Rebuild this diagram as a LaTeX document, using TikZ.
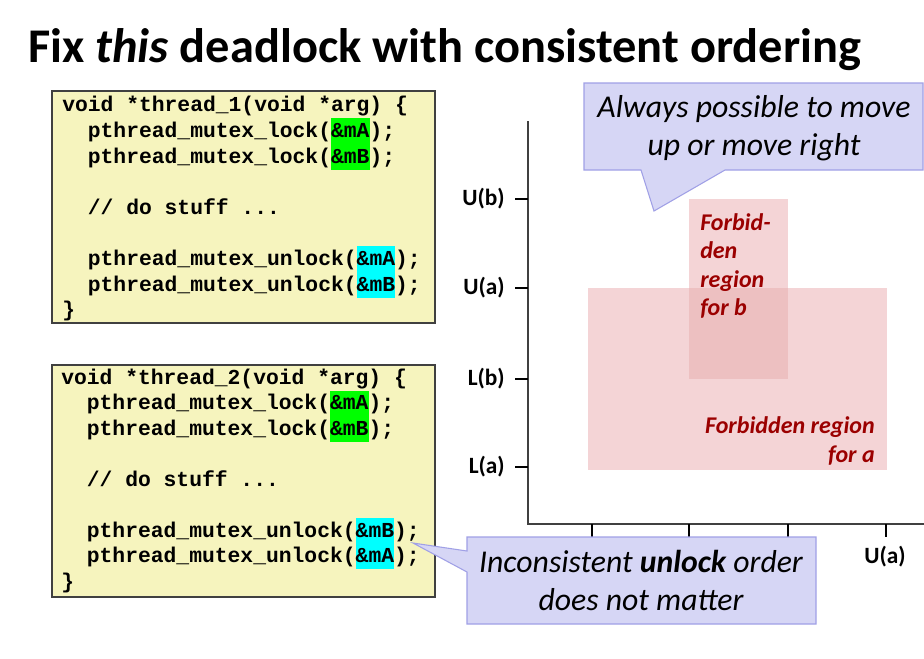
\documentclass[tikz,border=0pt]{standalone}
\usepackage{fontspec}
\setmainfont{Carlito}
\newfontfamily\codefont{Liberation Mono}
\usetikzlibrary{positioning}
\definecolor{codefill}{RGB}{246,244,190}
\definecolor{codedraw}{RGB}{64,64,64}
\definecolor{hlgreen}{RGB}{0,255,0}
\definecolor{hlcyan}{RGB}{0,255,255}
\definecolor{calfill}{RGB}{214,214,245}
\definecolor{caldraw}{RGB}{160,160,230}
\definecolor{forbfill}{RGB}{244,212,214}
\definecolor{forbover}{RGB}{237,192,193}
\definecolor{forbtext}{RGB}{155,0,0}
\definecolor{axiscol}{RGB}{64,64,64}
\newcommand\hlg[1]{{\setlength{\fboxsep}{0pt}\colorbox{hlgreen}{\rule[-5.2pt]{0pt}{19.4pt}#1}}}
\newcommand\hlc[1]{{\setlength{\fboxsep}{0pt}\colorbox{hlcyan}{\rule[-5.2pt]{0pt}{19.4pt}#1}}}
\tikzset{
  codebox/.style={draw=codedraw, fill=codefill, line width=1.2pt, minimum width=287.25pt, minimum height=174pt, inner sep=0pt},
  codeline/.style={anchor=base west, inner sep=0pt, font=\codefont\bfseries\fontsize{16pt}{19pt}\selectfont},
  calloutshape/.style={draw=caldraw, fill=calfill, line width=0.8pt, line join=miter},
  calltext/.style={anchor=base, inner sep=0pt, font=\itshape\fontsize{23.8pt}{28pt}\selectfont},
  forbtextstyle/.style={inner sep=0pt, text=forbtext, font=\bfseries\itshape\fontsize{18pt}{21pt}\selectfont},
  axisline/.style={draw=axiscol, line width=1.6pt},
  tickline/.style={draw=black, line width=2pt},
  axislabel/.style={inner sep=0pt, font=\bfseries\fontsize{17.5pt}{20pt}\selectfont}
}
\begin{document}
\begin{tikzpicture}[x=0.75pt,y=-0.75pt]
\useasboundingbox (0,0) rectangle (924,658);
\fill[white] (0,0) rectangle (924,658);
% title
\node[anchor=base west, inner sep=0pt, font=\bfseries\fontsize{36.3pt}{42pt}\selectfont] (title) at (28,62) {Fix \textit{this} deadlock with consistent ordering};
% code boxes
\node[codebox] (box1) at (243.5,207) {};
\node[codebox] (box2) at (243.5,481) {};
\node[codeline] (a1) at (62,111) {void *thread\_1(void *arg) \{};
\node[codeline] (a2) at (62,137) {\ \ pthread\_mutex\_lock(\hlg{\&mA});};
\node[codeline] (a3) at (62,163) {\ \ pthread\_mutex\_lock(\hlg{\&mB});};
\node[codeline] (a4) at (62,214) {\ \ // do stuff ...};
\node[codeline] (a5) at (62,265) {\ \ pthread\_mutex\_unlock(\hlc{\&mA});};
\node[codeline] (a6) at (62,291) {\ \ pthread\_mutex\_unlock(\hlc{\&mB});};
\node[codeline] (a7) at (62,316) {\}};
\node[codeline] (b1) at (61,384) {void *thread\_2(void *arg) \{};
\node[codeline] (b2) at (61,409.5) {\ \ pthread\_mutex\_lock(\hlg{\&mA});};
\node[codeline] (b3) at (61,435) {\ \ pthread\_mutex\_lock(\hlg{\&mB});};
\node[codeline] (b4) at (61,486) {\ \ // do stuff ...};
\node[codeline] (b5) at (61,537) {\ \ pthread\_mutex\_unlock(\hlc{\&mB});};
\node[codeline] (b6) at (61,562.5) {\ \ pthread\_mutex\_unlock(\hlc{\&mA});};
\node[codeline] (b7) at (61,588) {\}};
% forbidden regions
\fill[forbfill] (588,288) rectangle (887,470);
\fill[forbfill] (689,199) rectangle (788,288);
\fill[forbover] (689,288) rectangle (788,379);
\node[forbtextstyle, anchor=base west] (fb1) at (700,230) {Forbid-};
\node[forbtextstyle, anchor=base west] (fb2) at (700,258) {den};
\node[forbtextstyle, anchor=base west] (fb3) at (700,287) {region};
\node[forbtextstyle, anchor=base west] (fb4) at (700,315) {for b};
\node[forbtextstyle, anchor=base east] (fa1) at (875,433) {Forbidden region};
\node[forbtextstyle, anchor=base east] (fa2) at (875,462) {for a};
% axes
\coordinate (origin) at (528,524);
\coordinate (ytop) at (528,121);
\coordinate (xend) at (924,524);
\draw[axisline] (ytop) -- (origin) -- (xend);
\foreach \yy/\nm/\lab in {199/ub/U(b), 288/ua/U(a), 379/lb/L(b), 467/la/L(a)}{
  \draw[tickline] (515,\yy) -- (528,\yy);
  \node[axislabel, anchor=east] (y\nm) at (505,\yy) {\lab};
}
\foreach \xx/\nm in {592/t1, 689/t2, 788/t3, 886/t4}{
  \draw[tickline] (\xx,524) -- (\xx,537);
}
\node[axislabel] (xua) at (885,557) {U(a)};
% callout 1
\draw[calloutshape] (584,83) -- (923,83) -- (923,170) -- (725,170) -- (654,211) -- (641,170) -- (584,170) -- cycle;
\node[calltext] (c1a) at (754,117) {Always possible to move};
\node[calltext] (c1b) at (754,155) {up or move right};
% callout 2
\coordinate (tip2) at (413,543);
\draw[calloutshape] (467,537) -- (816,537) -- (816,624) -- (467,624) -- (467,572) -- (tip2) -- (467,551) -- cycle;
\node[calltext] (c2a) at (641,572) {Inconsistent \textbf{unlock} order};
\node[calltext] (c2b) at (641,610) {does not matter};
\end{tikzpicture}
\end{document}
